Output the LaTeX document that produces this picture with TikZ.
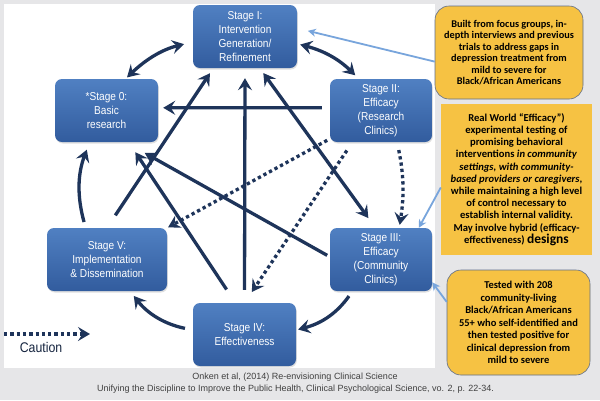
\documentclass[tikz,border=0pt]{standalone}
\usepackage{fontspec}
\setmainfont{Liberation Sans}
\newfontfamily\stagefont[FakeStretch=0.88]{Liberation Sans}
\newfontfamily\notefont{Carlito}
\usetikzlibrary{arrows.meta,shadows}
\definecolor{navy}{RGB}{30,52,90}
\definecolor{boxtop}{RGB}{80,128,194}
\definecolor{boxbot}{RGB}{50,92,158}
\definecolor{noteyellow}{RGB}{246,194,67}
\definecolor{noteedge}{RGB}{95,110,140}
\definecolor{pointblue}{RGB}{120,165,220}
\definecolor{bggrey}{RGB}{230,230,232}
\begin{document}
\begin{tikzpicture}[x=1pt,y=-1pt,
  stage/.style={rounded corners=7pt, top color=boxtop, bottom color=boxbot, text=white,
    font=\stagefont\fontsize{11.5}{14}\selectfont, align=center, minimum height=63pt, inner sep=0pt,
    drop shadow={opacity=0.25, shadow xshift=0.8pt, shadow yshift=-1.5pt}},
  note/.style={fill=noteyellow, align=center, inner sep=0pt},
  arr/.style={navy, line width=3.3pt, -{Stealth[length=12pt,width=14pt,inset=4.5pt]}},
  twoway/.style={arr, {Stealth[length=12pt,width=14pt,inset=4.5pt]}-{Stealth[length=12pt,width=14pt,inset=4.5pt]}},
  dotted arr/.style={arr, dash pattern=on 3.3pt off 3pt},
  pointer/.style={pointblue, line width=1.8pt, -{Stealth[length=8pt,width=8pt,inset=2.5pt]}}]
  \useasboundingbox (0,0) rectangle (600,400);
  \fill[bggrey] (0,0) rectangle (600,400);
  \fill[white] (4,4) rectangle (435,368);

  \node[stage, minimum width=104pt] (s1) at (245,36.5) {Stage I:\\Intervention\\Generation/\\Refinement};
  \node[stage, minimum width=103pt] (s0) at (106.5,110.5) {*Stage 0:\\Basic\\research};
  \node[stage, minimum width=102pt] (s2) at (381,110.5) {Stage II:\\Efficacy\\(Research\\Clinics)};
  \node[stage, minimum width=102pt] (s3) at (381,259.5) {Stage III:\\Efficacy\\(Community\\Clinics)};
  \node[stage, minimum width=103pt] (s4) at (244.5,334.5) {Stage IV:\\Effectiveness};
  \node[stage, minimum width=120pt] (s5) at (107,259.5) {Stage V:\\Implementation\\\& Dissemination};

  \draw[twoway, shorten <=2pt, shorten >=9pt] (s0.59) to[bend left=15] (s1.186);
  \draw[twoway, shorten <=3pt, shorten >=5pt] (s1.-8) to[bend left=15] (s2.125);
  \draw[arr, shorten <=6pt, shorten >=2pt] (s3.-132) to[bend left=20] (s4.5);
  \draw[arr, shorten <=8pt, shorten >=6pt] (s4.175) to[bend left=20] (s5.-54);
  \draw[arr, shorten <=6pt, shorten >=8pt] (s5.124) to[bend left=18] (s0.-118);
  \foreach \a/\b/\p/\q in {s2.177/s0.3/8pt/5pt, s5.north/s1.-135/15pt/6pt, s4.north/s1.south/13pt/10pt,
      s3.177/s0.-59/3pt/22pt, s4.106/s0.-55/16pt/12pt}
  {
    \draw[arr, shorten <=\p, shorten >=\q] (\a) -- (\b);
  }
  \draw[twoway, shorten <=6pt, shorten >=12pt] (s1.-65) -- (s3.100);
  \draw[dotted arr, shorten <=8pt, shorten >=3pt] (s2.-63) to[bend left=10] (s3.60);
  \draw[dotted arr, shorten <=3pt, shorten >=1pt] (s2.-151) -- (s5.north east);
  \draw[dotted arr, shorten <=10pt, shorten >=13pt] (s2.-132) -- (s4.north);

  \coordinate (cautionstart) at (4,334);
  \coordinate (cautionend) at (90,334);
  \draw[dotted arr] (cautionstart) -- (cautionend);
  \node[text=navy!70!black, font=\stagefont\fontsize{14}{16}\selectfont] (cautionlabel) at (41,347) {Caution};

  \node[note, rounded corners=14pt, draw=noteedge, line width=0.6pt, minimum width=148pt, minimum height=93pt,
    font=\notefont\bfseries\fontsize{10.3}{11.5}\selectfont] (c1) at (509,52.5)
    {Built from focus groups, in-\\depth interviews and previous\\trials to address gaps in\\depression treatment from\\mild to severe for\\Black/African Americans};
  \node[note, minimum width=151pt, minimum height=151pt,
    font=\notefont\bfseries\fontsize{10.6}{12.2}\selectfont] (c2) at (516.5,179.5)
    {Real World “Efficacy”)\\experimental testing of\\promising behavioral\\interventions \textit{in community}\\\textit{settings, with community-}\\\textit{based providers or caregivers},\\while maintaining a high level\\of control necessary to\\establish internal validity.\\May involve hybrid (efficacy-\\effectiveness) {\fontsize{13.5}{12.2}\selectfont designs}};
  \node[note, rounded corners=14pt, draw=noteedge, line width=0.6pt, minimum width=143pt, minimum height=105pt,
    font=\notefont\bfseries\fontsize{10.5}{12.5}\selectfont] (c3) at (518.5,322.5)
    {Tested with 208\\community-living\\Black/African Americans\\55+ who self-identified and\\then tested positive for\\clinical depression from\\mild to severe};

  \draw[pointer, shorten >=11pt] (c1.187) -- (s1.9);
  \draw[pointer] (c2.186) -- (s3.40);
  \draw[pointer] (c3.164) -- (s3.-24);

  \node[text=black!75, font=\fontsize{9}{10.8}\selectfont] (ref1) at (295,377) {Onken et al, (2014) Re-envisioning Clinical Science};
  \node[text=black!75, font=\fontsize{9}{10.8}\selectfont] (ref2) at (295.5,389) {Unifying the Discipline to Improve the Public Health, Clinical Psychological Science, vo. 2, p. 22-34.};
\end{tikzpicture}
\end{document}
